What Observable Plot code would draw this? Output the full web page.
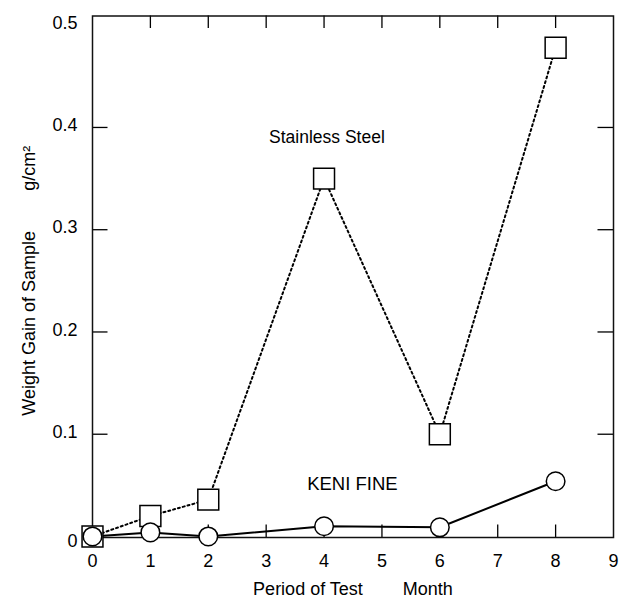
<!DOCTYPE html>
<html>
<head>
<meta charset="utf-8">
<script src="https://cdn.jsdelivr.net/npm/d3@7"></script>
<script src="https://cdn.jsdelivr.net/npm/@observablehq/plot@0.6"></script>
<style>
  body { margin: 0; background: #fff; }
  #chart svg { display: block; }
</style>
</head>
<body>
<div id="chart"></div>
<script>
// Data
const months = [0, 1, 2, 4, 6, 8];
const stainlessSteel = [0, 0.020, 0.036, 0.350, 0.100, 0.478];
const keniFine = [0, 0.004, 0, 0.010, 0.009, 0.054];
const xTicks = [0, 1, 2, 3, 4, 5, 6, 7, 8, 9];
const yTicks = [0, 0.1, 0.2, 0.3, 0.4, 0.5];
const xInnerTicks = [1, 2, 3, 4, 5, 6, 7, 8];
const yInnerTicks = [0.1, 0.2, 0.3, 0.4];
const seriesNames = ["Stainless Steel", "KENI FINE"];
const xLabel = "Period of Test" + "\u00a0".repeat(8) + "Month";
const yLabel = "Weight Gain of Sample" + "\u00a0".repeat(8) + "g/cm\u00b2";

const steelRows = months.map((m, i) => ({month: m, value: stainlessSteel[i]}));
const keniRows = months.map((m, i) => ({month: m, value: keniFine[i]}));

const W = 626, H = 599;
const mL = 92, mR = 13, mT = 15.5, mB = 62;
const xDom = [0, 9], yDom = [-0.001, 0.509];
const plotW = W - mL - mR, plotH = H - mT - mB;
const xTickLen = 12.5 * (yDom[1] - yDom[0]) / plotH;   // vertical ticks on x axes
const yTickLen = 15.5 * (xDom[1] - xDom[0]) / plotW;   // horizontal ticks on y axes

const chart = Plot.plot({
  width: W, height: H,
  marginLeft: mL, marginRight: mR, marginTop: mT, marginBottom: mB,
  style: {fontFamily: "'Liberation Sans', Arial, sans-serif", fontSize: "18px", background: "#fff", color: "#000"},
  x: {domain: xDom},
  y: {domain: yDom},
  marks: [
    Plot.axisX({ticks: xTicks, tickSize: 0, tickPadding: 17, label: null, fontSize: 18}),
    Plot.axisY({ticks: yTicks.filter(d => d !== 0), tickSize: 0, tickPadding: 15, label: null, fontSize: 18, dy: -2,
      tickFormat: d => d.toFixed(1)}),
    Plot.axisY({ticks: yTicks.filter(d => d === 0), tickSize: 0, tickPadding: 15, label: null, fontSize: 18, dy: 5,
      tickFormat: d => "0"}),
    // inward ticks on all four sides
    Plot.ruleX(xInnerTicks, {x: d => d, y1: yDom[0], y2: yDom[0] + xTickLen, stroke: "#000", strokeWidth: 1.3}),
    Plot.ruleX(xInnerTicks, {x: d => d, y1: yDom[1] - xTickLen, y2: yDom[1], stroke: "#000", strokeWidth: 1.3}),
    Plot.ruleY(yInnerTicks, {y: d => d, x1: xDom[0], x2: xDom[0] + yTickLen, stroke: "#000", strokeWidth: 1.3}),
    Plot.ruleY(yInnerTicks, {y: d => d, x1: xDom[1] - yTickLen, x2: xDom[1], stroke: "#000", strokeWidth: 1.3}),
    Plot.frame({stroke: "#111", strokeWidth: 1.5}),
    // series lines
    Plot.line(steelRows, {x: "month", y: "value", stroke: "#000", strokeWidth: 2, strokeDasharray: "2,3"}),
    Plot.line(keniRows, {x: "month", y: "value", stroke: "#000", strokeWidth: 2}),
    // markers
    Plot.dot(steelRows, {x: "month", y: "value", symbol: "square", r: 11.8, fill: "#fff", stroke: "#000", strokeWidth: 1.5}),
    Plot.dot(keniRows, {x: "month", y: "value", symbol: "circle", r: 9.3, fill: "#fff", stroke: "#000", strokeWidth: 1.5}),
    // series annotations
    Plot.text([seriesNames[0]], {x: 4.05, y: 0.39, text: d => d, fontSize: 17.5, fill: "#000"}),
    Plot.text([seriesNames[1]], {x: 4.49, y: 0.051, text: d => d, fontSize: 18.5, fill: "#000"}),
    // axis titles
    Plot.text([xLabel], {frameAnchor: "bottom", dy: 52, lineAnchor: "middle", textAnchor: "middle", text: d => d, fontSize: 18, fill: "#000"}),
    Plot.text([yLabel], {frameAnchor: "left", dx: -63, dy: 4, rotate: -90, textAnchor: "middle", lineAnchor: "middle", text: d => d, fontSize: 18, fill: "#000"})
  ]
});
document.getElementById("chart").append(chart);
</script>
</body>
</html>
